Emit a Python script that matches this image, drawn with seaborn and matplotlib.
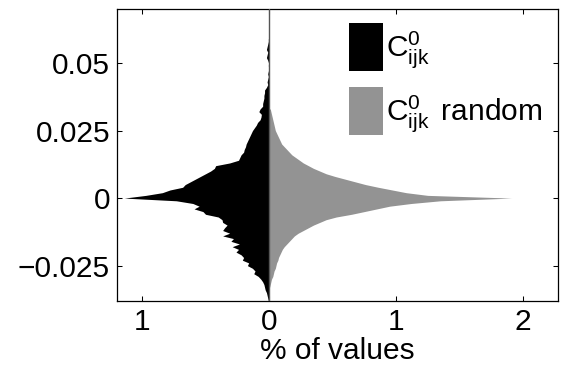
import numpy as np
import pandas as pd
import seaborn as sns
import matplotlib
matplotlib.use("Agg")
import matplotlib.pyplot as plt
from matplotlib.patches import Patch

# ---------------- data (percent of values per bin, bin width 0.001) ----------------
bin_width = 0.001

black_start = -0.038
black_pct = [
    0.005, 0.01, 0.015, 0.02, 0.03, 0.035, 0.04, 0.05, 0.065, 0.085,   # -0.038 .. -0.029
    0.12, 0.11, 0.13, 0.17, 0.16, 0.21, 0.20, 0.22, 0.26, 0.24,        # -0.028 .. -0.019
    0.29, 0.233, 0.30, 0.28, 0.365, 0.31, 0.365, 0.35, 0.33, 0.365,    # -0.018 .. -0.009
    0.37, 0.40, 0.50, 0.52, 0.59, 0.55, 0.60, 0.73,                    # -0.008 .. -0.001
    1.14,                                                              # 0
    0.97, 0.84, 0.78, 0.68, 0.66, 0.62, 0.58, 0.54, 0.50, 0.46,        # 0.001 .. 0.010
    0.43, 0.42, 0.31, 0.24, 0.23, 0.22, 0.20, 0.195, 0.185, 0.18,      # 0.011 .. 0.020
    0.17, 0.16, 0.15, 0.14, 0.13, 0.115, 0.10, 0.09, 0.07, 0.063,      # 0.021 .. 0.030
    0.06, 0.08, 0.07, 0.05, 0.05, 0.045, 0.04, 0.04, 0.035, 0.035,     # 0.031 .. 0.040
    0.02, 0.01, 0.015, 0.01, 0.005, 0.01, 0.005, 0.0, 0.005, 0.003,    # 0.041 .. 0.050
    0.01, 0.02, 0.015, 0.01, 0.02, 0.015, 0.01, 0.005, 0.005,          # 0.051 .. 0.059
]

gray_start = -0.033
gray_pct = [
    0.005, 0.01, 0.015, 0.02, 0.03, 0.035, 0.04, 0.05, 0.055, 0.06,    # -0.033 .. -0.024
    0.07, 0.075, 0.085, 0.095, 0.105, 0.12, 0.14, 0.16, 0.18, 0.20,    # -0.023 .. -0.014
    0.23, 0.27, 0.31, 0.35, 0.40, 0.45, 0.53, 0.65, 0.75, 0.85,        # -0.013 .. -0.004
    0.95, 1.12, 1.35,                                                  # -0.003 .. -0.001
    1.91,                                                              # 0
    1.25, 1.08, 0.97, 0.86, 0.76, 0.68, 0.60, 0.52, 0.45, 0.40,        # 0.001 .. 0.010
    0.35, 0.31, 0.27, 0.24, 0.21, 0.18, 0.16, 0.14, 0.12, 0.10,        # 0.011 .. 0.020
    0.09, 0.08, 0.07, 0.06, 0.05, 0.045, 0.04, 0.035, 0.03, 0.025,     # 0.021 .. 0.030
    0.02, 0.015, 0.01,                                                 # 0.031 .. 0.033
]

x_ticks = [-1, 0, 1, 2]
x_ticklabels = ["1", "0", "1", "2"]
y_ticks = [-0.025, 0, 0.025, 0.05]
y_ticklabels = ["\u22120.025", "0", "0.025", "0.05"]
legend_labels = [r"$\mathrm{C}^{0}_{ijk}$", r"$\mathrm{C}^{0}_{ijk}\,$ random"]

BLACK = "#000000"
GRAY = "#939393"

# ---------------- build tables ----------------
def make_table(start, pct, sign):
    n = len(pct)
    centers = start + bin_width * np.arange(n)
    return pd.DataFrame({"value": centers, "pct": sign * np.asarray(pct, float)}), centers

black_df, black_c = make_table(black_start, black_pct, -1.0)
gray_df, gray_c = make_table(gray_start, gray_pct, 1.0)

def edges_for(centers):
    e = np.concatenate([centers - bin_width / 2, [centers[-1] + bin_width / 2]])
    return [float(v) for v in e]

# ---------------- style ----------------
sns.set_style("ticks")
plt.rcParams["font.family"] = ["Liberation Sans", "DejaVu Sans"]
plt.rcParams["mathtext.fontset"] = "custom"
plt.rcParams["mathtext.rm"] = "Liberation Sans"
plt.rcParams["mathtext.it"] = "Liberation Sans"
plt.rcParams["mathtext.bf"] = "Liberation Sans:bold"
plt.rcParams["axes.unicode_minus"] = True
plt.rcParams["text.color"] = "black"
plt.rcParams["axes.labelcolor"] = "black"
plt.rcParams["xtick.color"] = "black"
plt.rcParams["ytick.color"] = "black"

FS = 21.5

fig = plt.figure(figsize=(5.63, 3.69), dpi=100)
ax = fig.add_axes([117 / 563, 1 - 301 / 369, 441 / 563, 292 / 369])

sns.histplot(data=black_df, y="value", weights="pct", bins=edges_for(black_c),
             element="poly", fill=True, color=BLACK, alpha=1, linewidth=0, ax=ax)
sns.histplot(data=gray_df, y="value", weights="pct", bins=edges_for(gray_c),
             element="poly", fill=True, color=GRAY, alpha=1, linewidth=0, ax=ax)

ax.axvline(0, color="#555555", lw=1.0, zorder=3)

ax.set_xlim(-1.197, 2.276)
ax.set_ylim(-0.0381, 0.0700)

ax.set_xticks(x_ticks)
ax.set_xticklabels(x_ticklabels)
ax.set_yticks(y_ticks)
ax.set_yticklabels(y_ticklabels)
ax.tick_params(axis="both", which="major", direction="in", length=3.6, width=0.75,
               top=True, right=True, labelsize=FS, colors="black")
ax.tick_params(axis="x", pad=5)
ax.tick_params(axis="y", pad=5)

for s in ax.spines.values():
    s.set_visible(True)
    s.set_linewidth(0.9)
    s.set_color("black")

ax.set_xlabel("% of values", fontsize=FS, labelpad=1, color="black")
ax.set_ylabel("")

handles = [Patch(facecolor=BLACK, edgecolor="none"), Patch(facecolor=GRAY, edgecolor="none")]
leg = ax.legend(handles, legend_labels, loc="upper left", bbox_to_anchor=(0.526, 0.952),
                frameon=False, borderpad=0, borderaxespad=0, handlelength=1.14,
                handleheight=2.1, handletextpad=0.1, labelspacing=0.52, fontsize=FS)
for t in leg.get_texts():
    t.set_color("black")

fig.savefig("out.png", dpi=100)
